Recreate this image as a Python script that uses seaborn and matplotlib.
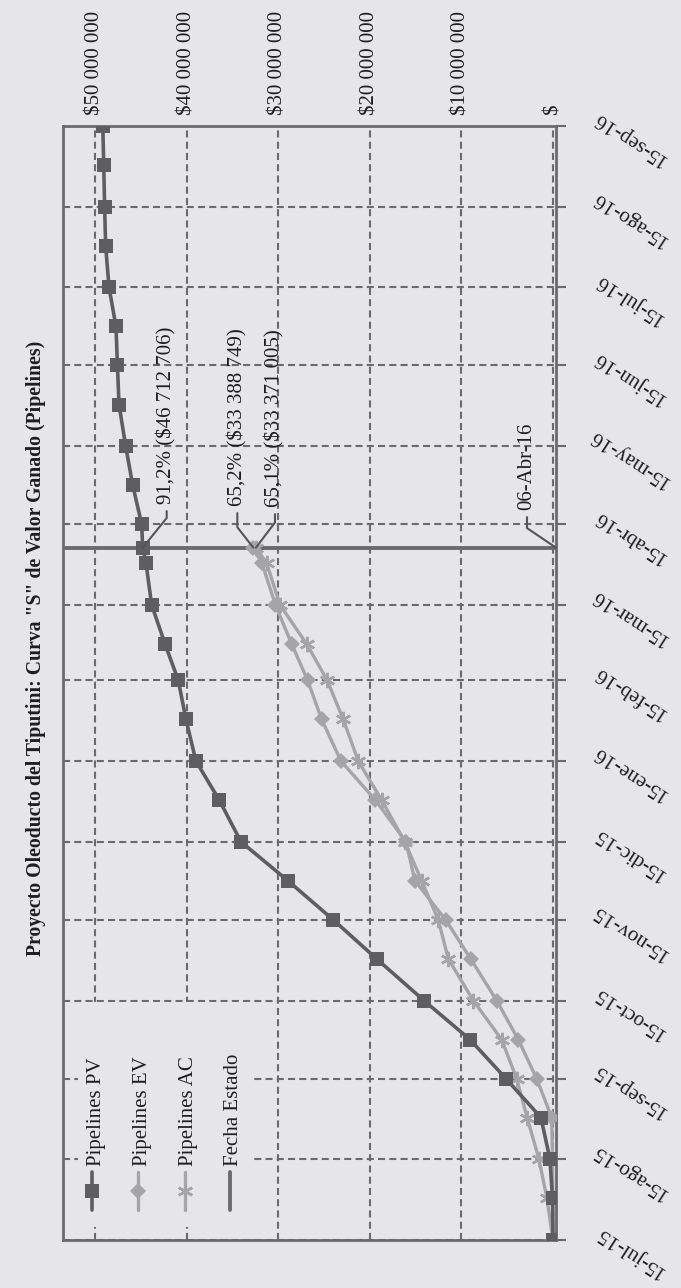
import numpy as np
import pandas as pd
import matplotlib
matplotlib.use("Agg")
import matplotlib.pyplot as plt
import matplotlib.dates as mdates
from matplotlib import transforms as mtrans
from matplotlib.lines import Line2D
from matplotlib.patches import Rectangle
import seaborn as sns

# ---------------- data ----------------
pv_dates = ["2015-07-15", "2015-07-31", "2015-08-15", "2015-08-31", "2015-09-15",
            "2015-09-30", "2015-10-15", "2015-10-31", "2015-11-15", "2015-11-30",
            "2015-12-15", "2015-12-31", "2016-01-15", "2016-01-31", "2016-02-15",
            "2016-02-29", "2016-03-15", "2016-03-31", "2016-04-06", "2016-04-15",
            "2016-04-30", "2016-05-15", "2016-05-31", "2016-06-15", "2016-06-30",
            "2016-07-15", "2016-07-31", "2016-08-15", "2016-08-31", "2016-09-15"]
pv_musd = [0.0, 0.05, 0.33, 1.31, 5.14, 9.07, 14.10, 19.27, 24.01, 28.96,
           34.10, 36.47, 39.02, 40.11, 40.95, 42.40, 43.86, 44.48, 44.84, 44.95,
           45.93, 46.70, 47.43, 47.60, 47.76, 48.52, 48.89, 49.00, 49.10, 49.20]

ev_dates = pv_dates[:19]
ev_musd = [0.0, 0.02, 0.05, 0.14, 1.78, 3.79, 6.15, 8.99, 11.73, 15.08,
           16.07, 19.40, 23.17, 25.28, 26.81, 28.56, 30.33, 31.80, 32.75]
ac_dates = pv_dates[:19]
ac_musd = [0.0, 0.66, 1.53, 2.82, 3.97, 5.61, 8.71, 11.44, 12.54, 14.35,
           16.20, 18.72, 21.28, 22.92, 24.67, 26.92, 29.84, 31.29, 32.46]

status_date = "2016-04-06"

value_ticks = [0, 10e6, 20e6, 30e6, 40e6, 50e6]
value_labels = ["$", "$10 000 000", "$20 000 000", "$30 000 000", "$40 000 000", "$50 000 000"]

month_ticks = ["2015-07-15", "2015-08-15", "2015-09-15", "2015-10-15", "2015-11-15",
               "2015-12-15", "2016-01-15", "2016-02-15", "2016-03-15", "2016-04-15",
               "2016-05-15", "2016-06-15", "2016-07-15", "2016-08-15", "2016-09-15"]
month_labels = ["15-jul-15", "15-ago-15", "15-sep-15", "15-oct-15", "15-nov-15",
                "15-dic-15", "15-ene-16", "15-feb-16", "15-mar-16", "15-abr-16",
                "15-may-16", "15-jun-16", "15-jul-16", "15-ago-16", "15-sep-16"]

series_names = ["Pipelines PV", "Pipelines EV", "Pipelines AC", "Fecha Estado"]
title = 'Proyecto Oleoducto del Tiputini: Curva "S" de Valor Ganado (Pipelines)'
ann_pv = "91,2% ($46 712 706)"
ann_ev = "65,2% ($33 388 749)"
ann_ac = "65,1% ($33 371 005)"
ann_fecha = "06-Abr-16"

# ---------------- style ----------------
BG = "#e6e6e8"
PV_C = "#5e5e60"
EV_C = "#a5a5a7"
AC_C = "#a5a5a7"
GRID_C = "#6b6b6d"
TXT = "#1e1e1e"
FS = 15

sns.set_theme(style="white")
plt.rcParams["font.family"] = ["Liberation Serif", "DejaVu Serif"]

W, H = 681, 1288
def fx(px):
    return px / W
def fy(py):
    return 1 - py / H

fig = plt.figure(figsize=(W / 100, H / 100), dpi=100)
fig.patch.set_facecolor(BG)
ax = fig.add_axes([fx(63), fy(1240), fx(556) - fx(63), fy(126) - fy(1240)])
ax.set_facecolor(BG)

df_pv = pd.DataFrame({"fecha": pd.to_datetime(pv_dates), "valor": np.array(pv_musd) * 1e6})
df_ev = pd.DataFrame({"fecha": pd.to_datetime(ev_dates), "valor": np.array(ev_musd) * 1e6})
df_ac = pd.DataFrame({"fecha": pd.to_datetime(ac_dates), "valor": np.array(ac_musd) * 1e6})

sns.lineplot(data=df_ev, x="valor", y="fecha", orient="y", sort=False, estimator=None,
             color=EV_C, linewidth=2.4, marker="D", markersize=7.8,
             markeredgewidth=0, markeredgecolor=EV_C, ax=ax, zorder=4)
sns.lineplot(data=df_ac, x="valor", y="fecha", orient="y", sort=False, estimator=None,
             color=AC_C, linewidth=2.4, marker=(6, 2, 0), markersize=11,
             markeredgewidth=1.8, markeredgecolor=AC_C, ax=ax, zorder=4)
sns.lineplot(data=df_pv, x="valor", y="fecha", orient="y", sort=False, estimator=None,
             color=PV_C, linewidth=2.6, marker="s", markersize=9.5,
             markeredgewidth=0, markeredgecolor=PV_C, ax=ax, zorder=5)

# status date line
sd = pd.Timestamp(status_date)
ax.axhline(sd, color=GRID_C, linewidth=2.8, zorder=3)

# axes limits and ticks
ax.set_xlim(53.55e6, -0.33e6)
ax.set_ylim(pd.Timestamp(month_ticks[0]), pd.Timestamp(month_ticks[-1]))
ax.xaxis.tick_top()
ax.set_xticks(value_ticks)
ax.set_xticklabels(value_labels, rotation=90, fontsize=FS, color=TXT)
ax.tick_params(axis="x", length=0, pad=8)
ax.set_yticks(pd.to_datetime(month_ticks))
ax.yaxis.tick_right()
ax.tick_params(axis="y", which="major", direction="out", length=7, width=1.5,
               color=GRID_C, labelright=False, labelleft=False)
ax.minorticks_off()
ax.set_xlabel("")
ax.set_ylabel("")

ax.set_axisbelow(True)
ax.grid(True, color=GRID_C, linestyle=(0, (3.4, 2.0)), linewidth=1.5)
for s in ax.spines.values():
    s.set_color(GRID_C)
    s.set_linewidth(2.0)

# date labels (rotated)
tr = mtrans.blended_transform_factory(ax.transAxes, ax.transData) + \
    mtrans.ScaledTranslation(0, -12 / 100, fig.dpi_scale_trans)
xlab = (630 - 63) / (556 - 63)
for d, lab in zip(month_ticks, month_labels):
    ax.text(xlab, mdates.date2num(pd.Timestamp(d)), lab, transform=tr, rotation=147,
            ha="center", va="center", fontsize=FS, color=TXT, clip_on=False)

# annotations
sdn = mdates.date2num(sd)
def annot(text, xy, off, angB, xycoords="data"):
    ax.annotate(text, xy=xy, xycoords=xycoords, xytext=off, textcoords="offset pixels",
                rotation=90, ha="center", va="bottom", fontsize=FS, color=TXT,
                arrowprops=dict(arrowstyle="-", color="#555557", lw=1.5, shrinkA=3,
                                shrinkB=0,
                                connectionstyle=f"angle,angleA=90,angleB={angB},rad=0"),
                zorder=6)

i_sd = pv_dates.index(status_date)
annot(ann_pv, (pv_musd[i_sd] * 1e6, sdn), (24, 44), 51)
annot(ann_ev, (ev_musd[-1] * 1e6, sdn), (-16, 42), 128)
annot(ann_ac, (ac_musd[-1] * 1e6, sdn), (19, 41), 53)
annot(ann_fecha, (1.0, sdn), (-29, 38), 146, xycoords=("axes fraction", "data"))

# legend (drawn rotated, like the reference)
ax.add_patch(Rectangle((fx(78), fy(1227)), fx(252) - fx(78), fy(1002) - fy(1227),
                       transform=fig.transFigure, facecolor=BG, edgecolor="none",
                       zorder=1.5))
leg_x = [92, 138, 184.5, 230]
leg_styles = [dict(color=PV_C, lw=2.6, marker="s", ms=9.5, mew=0, mec=PV_C),
              dict(color=EV_C, lw=2.4, marker="D", ms=7.8, mew=0, mec=EV_C),
              dict(color=AC_C, lw=2.4, marker=(6, 2, 0), ms=11, mew=1.8, mec=AC_C),
              dict(color=GRID_C, lw=2.8)]
for x, name, st in zip(leg_x, series_names, leg_styles):
    fig.add_artist(Line2D([fx(x), fx(x)], [fy(1172), fy(1210)], transform=fig.transFigure,
                          color=st["color"], lw=st["lw"], zorder=7))
    if "marker" in st:
        fig.add_artist(Line2D([fx(x)], [fy(1191)], transform=fig.transFigure,
                              linestyle="none", marker=st["marker"], ms=st["ms"],
                              mew=st["mew"], mec=st["mec"], mfc=st["color"], zorder=8))
    fig.text(fx(x + 4), fy(1166), name, rotation=90, ha="center", va="bottom",
             fontsize=FS, color=TXT, zorder=8)

# title
fig.text(fx(36), fy(648), title, rotation=90, ha="center", va="center",
         fontsize=14.2, fontweight="bold", color=TXT)

fig.savefig("out.png", dpi=100, facecolor=BG)
